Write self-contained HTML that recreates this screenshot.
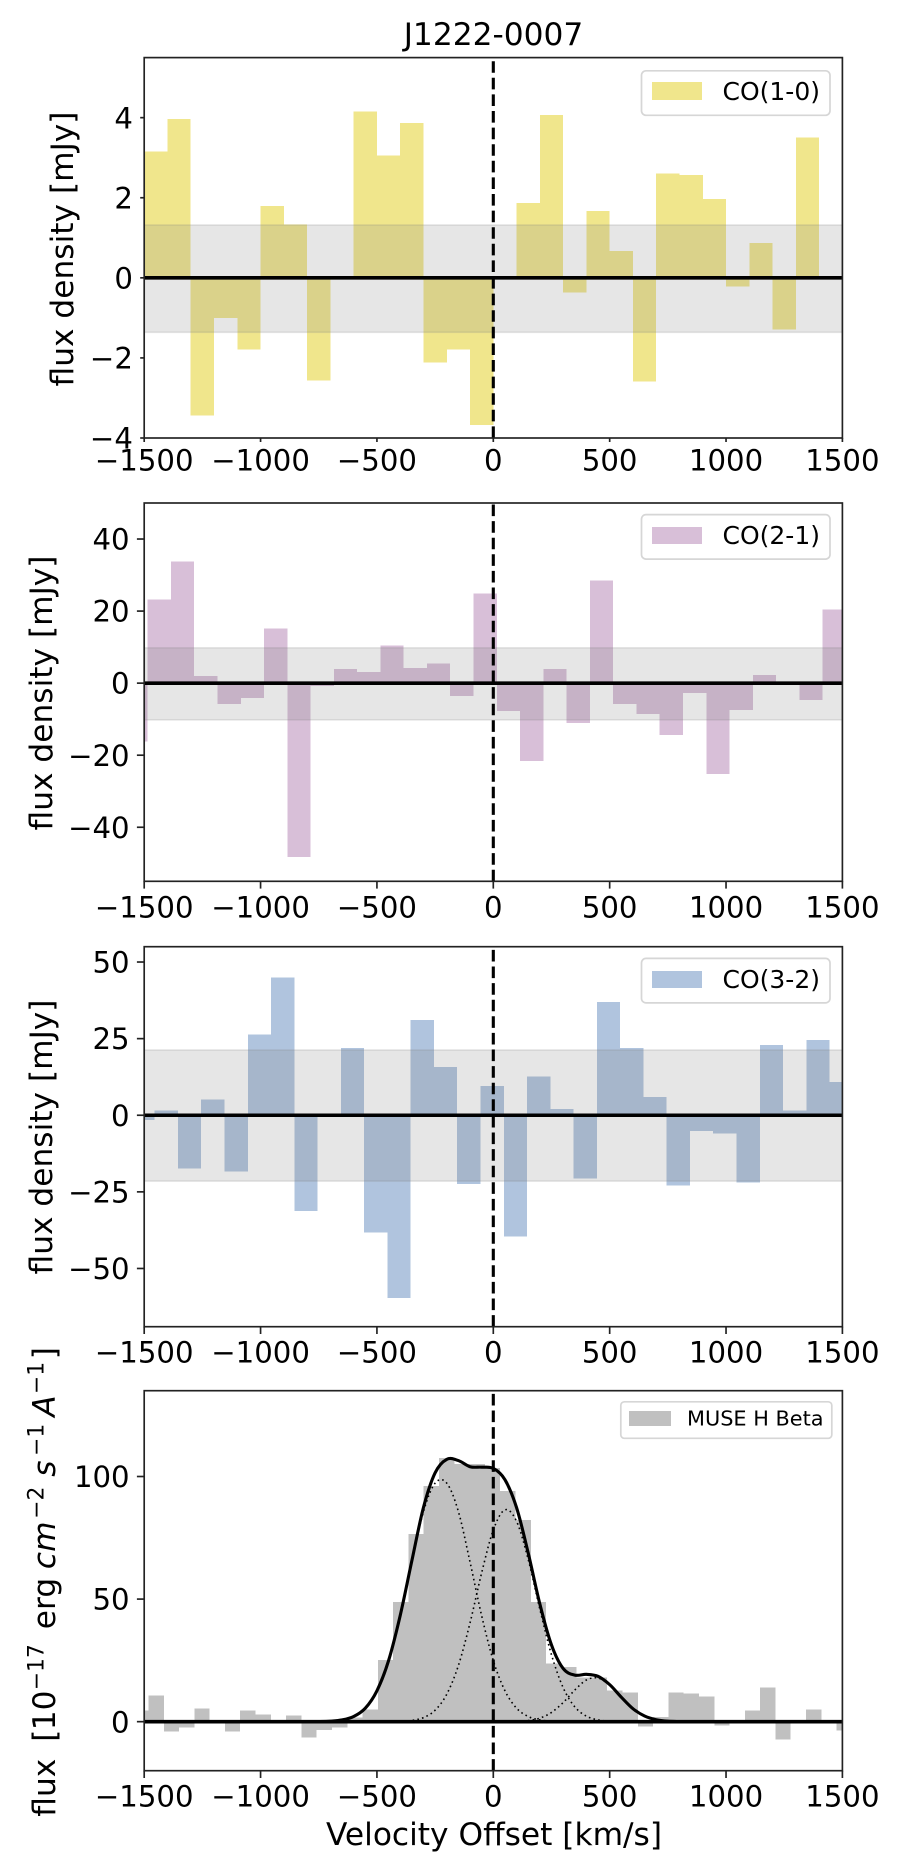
<!DOCTYPE html>
<html lang="en">
<head>
<meta charset="utf-8">
<title>J1222-0007</title>
<style>
html,body{margin:0;padding:0;background:#fff;width:900px;height:1875px;overflow:hidden}
svg{display:block}
text{font-family:"DejaVu Sans","Liberation Sans",sans-serif;fill:#000}
</style>
</head>
<body>
<svg id="figure" xmlns="http://www.w3.org/2000/svg" width="900" height="1875" viewBox="0 0 900 1875">
  <rect x="0" y="0" width="900" height="1875" fill="#fff"/>
  <text x="493.5" y="45" font-size="31.25" text-anchor="middle">J1222-0007</text>
  <g id="panels"></g>

  <text transform="translate(73,249) rotate(-90)" font-size="31.25" text-anchor="middle">flux density [mJy]</text>
  <text transform="translate(52,693) rotate(-90)" font-size="31.25" text-anchor="middle">flux density [mJy]</text>
  <text transform="translate(52,1137) rotate(-90)" font-size="31.25" text-anchor="middle">flux density [mJy]</text>

  <g transform="translate(55,1816.7) rotate(-90)">
    <text x="0" y="0" font-size="31.25">flux</text>
    <text x="75" y="0" font-size="31.25">[</text>
    <text x="86.5" y="0" font-size="31.25">10</text>
    <text x="126.4" y="-11.7" font-size="21.9">−17</text>
    <text x="187.5" y="0" font-size="31.25">erg</text>
    <text x="247.6" y="0" font-size="31.25" font-style="italic">cm</text>
    <text x="297.8" y="-11.7" font-size="21.9">−2</text>
    <text x="340" y="0" font-size="31.25" font-style="italic">s</text>
    <text x="360.7" y="-11.7" font-size="21.9">−1</text>
    <text x="400" y="0" font-size="31.25" font-style="italic">A</text>
    <text x="422.6" y="-11.7" font-size="21.9">−1</text>
    <text x="457.5" y="0" font-size="31.25">]</text>
  </g>

  <text x="494" y="1845" font-size="31.25" text-anchor="middle">Velocity Offset [km/s]</text>

  <g id="legends">
    <g>
      <rect x="641.5" y="70.8" width="188.5" height="44.5" rx="4.5" fill="#fff" fill-opacity="0.8" stroke="#d6d6d6" stroke-width="1.7"/>
      <rect x="652" y="82" width="50" height="18" fill="#F0E68C"/>
      <text x="722.5" y="100" font-size="25">CO(1-0)</text>
    </g>
    <g>
      <rect x="641.5" y="514.6" width="188.5" height="44.5" rx="4.5" fill="#fff" fill-opacity="0.8" stroke="#d6d6d6" stroke-width="1.7"/>
      <rect x="652" y="527" width="50" height="17" fill="#D8BFD8"/>
      <text x="722.5" y="544" font-size="25">CO(2-1)</text>
    </g>
    <g>
      <rect x="641.5" y="958.4" width="188.5" height="44.5" rx="4.5" fill="#fff" fill-opacity="0.8" stroke="#d6d6d6" stroke-width="1.7"/>
      <rect x="652" y="971" width="50" height="17" fill="#B0C4DE"/>
      <text x="722.5" y="988" font-size="25">CO(3-2)</text>
    </g>
    <g>
      <rect x="620.8" y="1401.8" width="211" height="36.5" rx="3.5" fill="#fff" fill-opacity="0.8" stroke="#d6d6d6" stroke-width="1.7"/>
      <rect x="629" y="1411" width="42" height="15" fill="#C0C0C0"/>
      <text x="687" y="1425.7" font-size="20.83">MUSE H Beta</text>
    </g>
  </g>
</svg>

<script>
// ---- data ----
const xTickValues = [-1500, -1000, -500, 0, 500, 1000, 1500];
const xTickLabels = ['−1500', '−1000', '−500', '0', '500', '1000', '1500'];

const co10Velocity = [-1500,-1400,-1300,-1200,-1100,-1000,-900,-800,-700,-600,-500,-400,-300,-200,-100,0,100,200,300,400,500,600,700,800,900,1000,1100,1200,1300,1400];
const co10Flux = [3.15,3.97,-3.44,-1.0,-1.79,1.8,1.33,-2.57,0,4.15,3.05,3.87,-2.12,-1.79,-3.67,0,1.87,4.07,-0.37,1.67,0.67,-2.59,2.6,2.57,1.97,-0.22,0.87,-1.29,3.5,0];
const co10NoiseBand = [-1.36, 1.32];
const co10YLimits = [-4, 5.5];
const co10YTicks = [-4, -2, 0, 2, 4];
const co10YTickLabels = ['−4', '−2', '0', '2', '4'];

const co21Velocity = [-1585,-1485,-1385,-1285,-1185,-1085,-985,-885,-785,-685,-585,-485,-385,-285,-185,-85,15,115,215,315,415,515,615,715,815,915,1015,1115,1215,1315,1415];
const co21Flux = [-16.2,23.25,33.8,1.94,-5.8,-4.06,15.2,-48.3,-0.74,3.87,3.04,10.5,4.15,5.5,-3.6,24.9,-7.75,-21.6,3.87,-11.07,28.5,-5.8,-8.6,-14.4,-2.77,-25.2,-7.5,2.2,0,-4.7,20.5];
const co21NoiseBand = [-10.2, 9.8];
const co21YLimits = [-55, 50];
const co21YTicks = [-40, -20, 0, 20, 40];
const co21YTickLabels = ['−40', '−20', '0', '20', '40'];

const co32Velocity = [-1555,-1455,-1355,-1255,-1155,-1055,-955,-855,-755,-655,-555,-455,-355,-255,-155,-55,45,145,245,345,445,545,645,745,845,945,1045,1145,1245,1345,1445];
const co32Flux = [-1.6,1.6,-17.3,5.2,-18.3,26.4,45,-31.3,0,21.9,-38.2,-59.7,31,15.7,-22.5,9.5,-39.5,12.7,1.96,-20.6,36.9,21.9,5.9,-22.9,-5.2,-5.9,-21.9,22.9,1.6,24.5,10.8];
const co32NoiseBand = [-21.5, 21.3];
const co32YLimits = [-69, 55];
const co32YTicks = [-50, -25, 0, 25, 50];
const co32YTickLabels = ['−50', '−25', '0', '25', '50'];

const museVelocity = [-1547,-1481.5,-1415.8,-1350.1,-1284.4,-1218.7,-1153,-1087.3,-1021.6,-955.9,-890.2,-824.5,-758.8,-693.1,-627.4,-561.7,-496,-430.3,-364.6,-298.9,-233.2,-167.5,-101.8,-36.1,29.6,95.3,161,226.7,292.4,358.1,423.8,489.5,555.2,620.9,686.6,752.3,818,883.7,949.4,1015.1,1080.8,1146.5,1212.2,1277.9,1343.6,1409.3,1475];
const museFlux = [4.5,10.6,-4.1,-2.45,5.3,0,-4.1,4.5,2.9,0,2.45,-6.5,-3.3,-2.45,1.6,4.9,25.2,48.8,76.6,96.2,107.5,105.2,105.2,103.4,94.1,82.3,48.8,23.8,22.3,18,18,12.65,11.8,-2,1.9,11.8,11.4,10.2,-1.6,0,4.5,13.9,-7.3,0,4.9,0,-3.7];
const museYLimits = [-20, 135];
const museYTicks = [0, 50, 100];
const museYTickLabels = ['0', '50', '100'];

const fitVelocity = [-800,-750,-700,-650,-600,-550,-500,-450,-400,-350,-300,-250,-200,-150,-100,-50,0,50,100,150,200,250,300,350,400,450,500,550,600,650,700,750,800,850];
const fitComponentBlue = [0,0.03,0.2,0.7,2.1,5.5,12.6,24.9,43.2,65.1,85.7,97.3,97.3,85.7,65.1,43.2,24.9,12.6,5.5,2.1,0.7,0.2,0.05,0,0,0,0,0,0,0,0,0,0,0];
const fitComponentCore = [0,0,0,0,0,0,0,0,0.13,0.51,1.66,4.66,11.2,22.9,40.3,60.7,78.2,86.4,81.7,66.2,45.9,27.3,13.9,6.05,2.26,0.72,0.2,0.05,0,0,0,0,0,0];
const fitComponentRed = [0,0,0,0,0,0,0,0,0,0,0,0,0,0,0,0,0,0,0.11,0.44,1.44,3.75,7.78,12.9,17,17.8,14.9,9.99,5.32,2.25,0.76,0.2,0.05,0];
const fitTotal = [0,0.03,0.2,0.7,2.1,5.5,12.6,24.9,43.3,65.6,87.4,101.5,107,106.5,104,103.8,103.3,98.7,87.3,68.8,48,31.3,21.7,19,19.3,18.5,15.1,10,5.3,2.3,0.8,0.2,0.05,0];

// ---- layout ----
const SVG_NS = 'http://www.w3.org/2000/svg';
const plotLeft = 144.2;
const plotRight = 842.4;
const xDomain = [-1500, 1500];
const root = document.getElementById('panels');

function xScale(v) {
  return plotLeft + (v - xDomain[0]) / (xDomain[1] - xDomain[0]) * (plotRight - plotLeft);
}
function makeYScale(limits, top, bottom) {
  return function (v) {
    return bottom - (v - limits[0]) / (limits[1] - limits[0]) * (bottom - top);
  };
}
function make(tag, parent, attrs) {
  const node = document.createElementNS(SVG_NS, tag);
  for (const key in attrs) node.setAttribute(key, attrs[key]);
  parent.appendChild(node);
  return node;
}
function smoothPath(xs, ys) {
  let d = 'M' + xs[0].toFixed(2) + ' ' + ys[0].toFixed(2);
  for (let i = 0; i < xs.length - 1; i++) {
    const i0 = Math.max(i - 1, 0);
    const i3 = Math.min(i + 2, xs.length - 1);
    const c1x = xs[i] + (xs[i + 1] - xs[i0]) / 6;
    const c1y = ys[i] + (ys[i + 1] - ys[i0]) / 6;
    const c2x = xs[i + 1] - (xs[i3] - xs[i]) / 6;
    const c2y = ys[i + 1] - (ys[i3] - ys[i]) / 6;
    d += 'C' + c1x.toFixed(2) + ' ' + c1y.toFixed(2) + ' ' + c2x.toFixed(2) + ' ' + c2y.toFixed(2) + ' ' + xs[i + 1].toFixed(2) + ' ' + ys[i + 1].toFixed(2);
  }
  return d;
}

function drawPanel(key, top, bottom, limits, velocity, flux, binWidth, color, noiseBand, yTicks, yTickLabels, tickLength) {
  const y = makeYScale(limits, top, bottom);
  const group = make('g', root, {});
  
  

  const clip = make('clipPath', group, { id: 'clip-' + key });
  make('rect', clip, { x: plotLeft, y: top, width: plotRight - plotLeft, height: bottom - top });

  const plotArea = make('g', group, { 'clip-path': 'url(#clip-' + key + ')' });
  
  

  for (let i = 0; i < flux.length; i++) {
    const x0 = xScale(velocity[i]);
    const x1 = xScale(velocity[i] + binWidth);
    const y0 = y(Math.max(flux[i], 0));
    const y1 = y(Math.min(flux[i], 0));
    const bar = make('rect', plotArea, { x: x0, y: y0, width: x1 - x0, height: y1 - y0, fill: color, 'shape-rendering': 'crispEdges' });
    
    
  }

  if (noiseBand !== null) {
    const band = make('rect', plotArea, { x: plotLeft - 3, y: y(noiseBand[1]), width: plotRight - plotLeft + 6, height: y(noiseBand[0]) - y(noiseBand[1]), fill: 'rgb(128,128,128)', 'fill-opacity': 0.2, stroke: 'rgb(128,128,128)', 'stroke-opacity': 0.2, 'stroke-width': 1.6 });
    
    
  }
  return { y: y, plotArea: plotArea, group: group, top: top, bottom: bottom, ticks: yTicks, labels: yTickLabels, tickLength: tickLength, key: key };
}

function finishPanel(p) {
  const zero = make('line', p.plotArea, { x1: plotLeft, x2: plotRight, y1: p.y(0), y2: p.y(0), stroke: '#000', 'stroke-width': 3.6 });
  
  

  const dash = make('line', p.plotArea, { x1: xScale(0), x2: xScale(0), y1: p.bottom, y2: p.top, stroke: '#000', 'stroke-width': 3.1, 'stroke-dasharray': '11.6 5' });
  
  
}

function drawAxes(p) {
  const pad = 7.3;
  const xBaseline = p.bottom + p.tickLength + pad + 21.4;
  for (let i = 0; i < xTickValues.length; i++) {
    const px = xScale(xTickValues[i]);
    const tick = make('line', p.group, { x1: px, x2: px, y1: p.bottom, y2: p.bottom + p.tickLength, stroke: '#222', 'stroke-width': 1.67 });
    
    
    const label = make('text', p.group, { x: px, y: xBaseline, 'font-size': 29.17, 'text-anchor': 'middle' });
    label.textContent = xTickLabels[i];
    
    
  }
  for (let i = 0; i < p.ticks.length; i++) {
    const py = p.y(p.ticks[i]);
    const tick = make('line', p.group, { x1: plotLeft - p.tickLength, x2: plotLeft, y1: py, y2: py, stroke: '#222', 'stroke-width': 1.67 });
    
    
    const label = make('text', p.group, { x: plotLeft - p.tickLength - pad, y: py + 10.6, 'font-size': 29.17, 'text-anchor': 'end' });
    label.textContent = p.labels[i];
    
    
  }
  const frame = make('rect', p.group, { x: plotLeft, y: p.top, width: plotRight - plotLeft, height: p.bottom - p.top, fill: 'none', stroke: '#222', 'stroke-width': 1.67 });
  
  
}

function drawFitLine(p, name, values, width, dash) {
  const xs = fitVelocity.map(xScale);
  const ys = values.map(p.y);
  const attrs = { d: smoothPath(xs, ys), fill: 'none', stroke: '#000', 'stroke-width': width };
  if (dash) attrs['stroke-dasharray'] = dash;
  const line = make('path', p.plotArea, attrs);
  
  
}

// ---- panels ----
const panel10 = drawPanel('co10', 57.6, 438, co10YLimits, co10Velocity, co10Flux, 100, '#F0E68C', co10NoiseBand, co10YTicks, co10YTickLabels, 4);
finishPanel(panel10);
drawAxes(panel10);

const panel21 = drawPanel('co21', 503, 881.3, co21YLimits, co21Velocity, co21Flux, 100, '#D8BFD8', co21NoiseBand, co21YTicks, co21YTickLabels, 7.3);
finishPanel(panel21);
drawAxes(panel21);

const panel32 = drawPanel('co32', 946.7, 1326.7, co32YLimits, co32Velocity, co32Flux, 100, '#B0C4DE', co32NoiseBand, co32YTicks, co32YTickLabels, 7.3);
finishPanel(panel32);
drawAxes(panel32);

const panelMuse = drawPanel('muse', 1390.7, 1770.7, museYLimits, museVelocity, museFlux, 65.7, '#C0C0C0', null, museYTicks, museYTickLabels, 7.3);
drawFitLine(panelMuse, 'muse-fit-component-blue', fitComponentBlue, 1.6, '1.6 3.2');
drawFitLine(panelMuse, 'muse-fit-component-core', fitComponentCore, 1.6, '1.6 3.2');
drawFitLine(panelMuse, 'muse-fit-component-red', fitComponentRed, 1.6, '1.6 3.2');
drawFitLine(panelMuse, 'muse-fit-total', fitTotal, 3.1, null);
finishPanel(panelMuse);
drawAxes(panelMuse);
</script>
</body>
</html>
